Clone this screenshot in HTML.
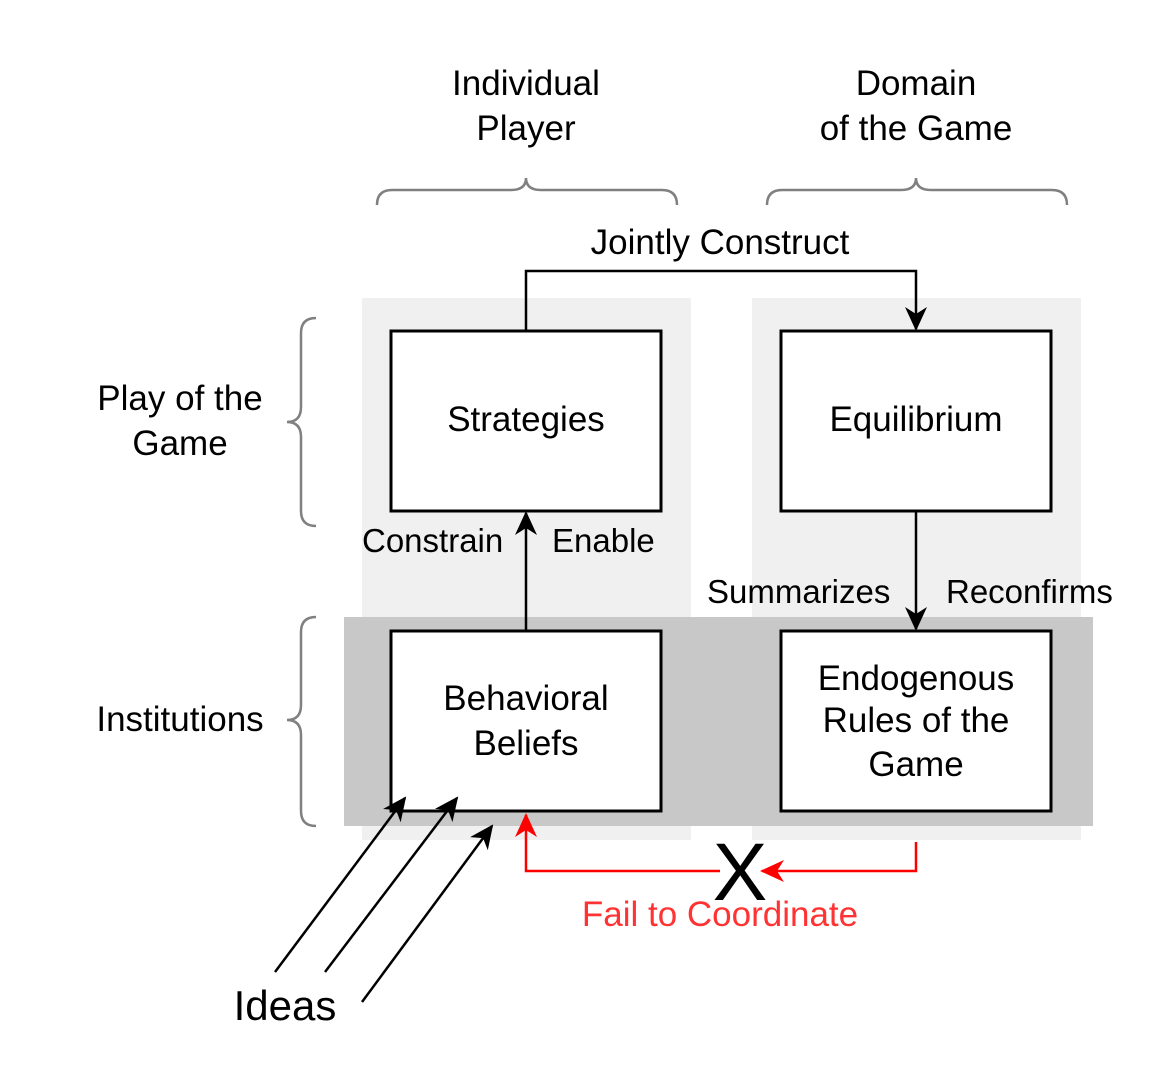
<!DOCTYPE html>
<html><head><style>body{margin:0;background:#fff}svg{display:block}text{font-family:"Liberation Sans",sans-serif}</style></head><body>
<svg width="1170" height="1080" viewBox="0 0 1170 1080" xmlns="http://www.w3.org/2000/svg">
<defs>
<marker id="ab" markerWidth="24" markerHeight="24" refX="22" refY="12" orient="auto" markerUnits="userSpaceOnUse" viewBox="0 0 24 24"><path d="M0,1 L24,12 L0,23 L7,12 Z" fill="#000"/></marker>
<marker id="r" markerWidth="24" markerHeight="24" refX="22" refY="12" orient="auto" markerUnits="userSpaceOnUse" viewBox="0 0 24 24"><path d="M0,1 L24,12 L0,23 L7,12 Z" fill="#f00"/></marker>
</defs>
<rect x="362" y="298" width="329" height="542" fill="#f0f0f0"/>
<rect x="752" y="298" width="329" height="542" fill="#f0f0f0"/>
<rect x="344" y="617" width="749" height="209" fill="#c8c8c8"/>
<g fill="#fff" stroke="#000" stroke-width="3">
<rect x="391" y="331" width="270" height="180"/>
<rect x="781" y="331" width="270" height="180"/>
<rect x="391" y="631" width="270" height="180"/>
<rect x="781" y="631" width="270" height="180"/>
</g>
<g fill="none" stroke="#808080" stroke-width="2.5">
<path d="M377,205 Q377,190 392,190 L511,190 Q526,190 526,178 Q526,190 541,190 L662,190 Q677,190 677,205"/>
<path d="M767,205 Q767,190 782,190 L901,190 Q916,190 916,178 Q916,190 931,190 L1052,190 Q1067,190 1067,205"/>
<path d="M316,318 Q301,318 301,333 L301,407 Q301,422 287,422 Q301,422 301,437 L301,511 Q301,526 316,526"/>
<path d="M316,617 Q301,617 301,632 L301,705 Q301,720 287,720 Q301,720 301,735 L301,811 Q301,826 316,826"/>
</g>
<g fill="none" stroke="#000" stroke-width="2.5">
<path d="M526,331 L526,271 L916,271 L916,329" marker-end="url(#ab)"/>
<path d="M526,631 L526,513" marker-end="url(#ab)"/>
<path d="M916,511 L916,629" marker-end="url(#ab)"/>
<path d="M275,972 L405,798" marker-end="url(#ab)"/>
<path d="M325,972 L457,798" marker-end="url(#ab)"/>
<path d="M362,1002 L492,826" marker-end="url(#ab)"/>
</g>
<g fill="none" stroke="#f00" stroke-width="2.5">
<path d="M916,842 L916,871 L762,871" marker-end="url(#r)"/>
<path d="M720,871 L526,871 L526,815" marker-end="url(#r)"/>
</g>
<g font-size="35" text-anchor="middle" fill="#000">
<text x="526" y="95">Individual</text><text x="526" y="140">Player</text>
<text x="916" y="95">Domain</text><text x="916" y="140">of the Game</text>
<text x="180" y="410">Play of the</text><text x="180" y="455">Game</text>
<text x="180" y="731">Institutions</text>
<text x="720" y="254">Jointly Construct</text>
<text x="526" y="431">Strategies</text>
<text x="916" y="431">Equilibrium</text>
<text x="526" y="710">Behavioral</text><text x="526" y="755">Beliefs</text>
<text x="916" y="690">Endogenous</text><text x="916" y="732">Rules of the</text><text x="916" y="776">Game</text>
<text x="285" y="1020" font-size="42">Ideas</text>
<text x="740" y="900" font-size="82">X</text>
<text x="720" y="926" fill="#ff3333">Fail to Coordinate</text>
</g>
<g font-size="33" fill="#000">
<text x="362" y="552">Constrain</text>
<text x="552" y="552">Enable</text>
<text x="707" y="603">Summarizes</text>
<text x="946" y="603">Reconfirms</text>
</g>
</svg>
</body></html>
